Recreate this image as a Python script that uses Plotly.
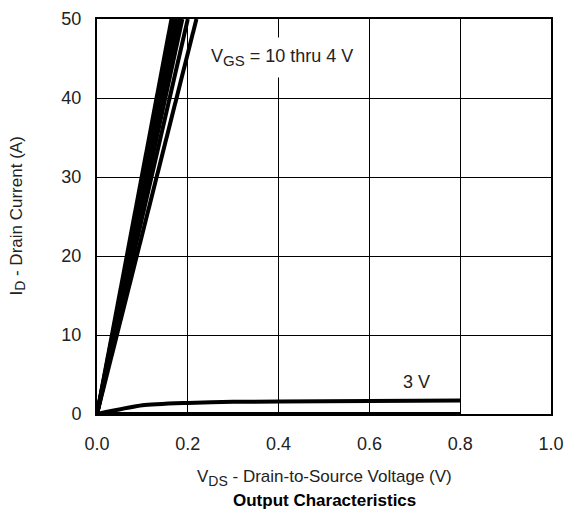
import plotly.graph_objects as go

# Data: V_GS curves (V_DS in V, I_D in A)
vgs_labels = ["10 V", "9 V", "8 V", "7 V", "6 V", "5 V", "4 V"]
vds_high = [[0.0, 0.164], [0.0, 0.170], [0.0, 0.176], [0.0, 0.182],
            [0.0, 0.188], [0.0, 0.200], [0.0, 0.219]]
id_high = [[0.0, 50.0]] * 7

vds_3v = [0.0, 0.1, 0.2, 0.3, 0.5, 0.8]
id_3v = [0.0, 1.1, 1.4, 1.55, 1.6, 1.7]

vds_2v = [0.0, 0.8]
id_2v = [0.0, 0.0]

x_ticks = [0.0, 0.2, 0.4, 0.6, 0.8, 1.0]
x_tick_text = ["0.0", "0.2", "0.4", "0.6", "0.8", "1.0"]
y_ticks = [0, 10, 20, 30, 40, 50]

FONT = "Liberation Sans, Arial, Helvetica, sans-serif"
TXT = "#222222"

fig = go.Figure()
for name, xs, ys in zip(vgs_labels, vds_high, id_high):
    fig.add_trace(go.Scatter(x=xs, y=ys, mode="lines", name=name,
                             line=dict(color="black", width=4)))
fig.add_trace(go.Scatter(x=vds_3v, y=id_3v, mode="lines", name="3 V",
                         line=dict(color="black", width=4, shape="spline", smoothing=0.6)))
fig.add_trace(go.Scatter(x=vds_2v, y=id_2v, mode="lines", name="2 V",
                         line=dict(color="black", width=4)))

fig.update_layout(
    width=564, height=519,
    margin=dict(l=97, r=13, t=19, b=105),
    paper_bgcolor="white", plot_bgcolor="white",
    showlegend=False,
    font=dict(family=FONT, size=18, color=TXT),
    xaxis=dict(range=[0, 1.0], tickvals=x_ticks, ticktext=x_tick_text,
               showgrid=True, gridcolor="black", gridwidth=1,
               showline=True, linecolor="black", linewidth=2, mirror=True,
               zeroline=False, ticks="", ticklabelstandoff=12, automargin=False,
               tickfont=dict(size=18, color=TXT)),
    yaxis=dict(range=[0, 50], tickvals=y_ticks,
               showgrid=True, gridcolor="black", gridwidth=1,
               showline=True, linecolor="black", linewidth=2, mirror=True,
               zeroline=False, ticks="", ticklabelstandoff=10, automargin=False,
               tickfont=dict(size=18, color=TXT)),
)

SUB = '<sub><span style="font-size:%dpx">%s</span></sub>'

fig.add_annotation(x=0.407, y=45.1, xref="x", yref="y",
                   text="V" + SUB % (15, "GS") + " = 10 thru 4 V", showarrow=False,
                   bgcolor="white", borderpad=8,
                   font=dict(size=18, color=TXT))
fig.add_annotation(x=0.704, y=4.1, xref="x", yref="y",
                   text="3 V", showarrow=False,
                   font=dict(size=18, color=TXT))
fig.add_annotation(x=0.5, y=-0.161, xref="paper", yref="paper",
                   text="V" + SUB % (14, "DS") + " - Drain-to-Source Voltage (V)", showarrow=False,
                   xanchor="center", yanchor="middle",
                   font=dict(size=17, color=TXT))
fig.add_annotation(x=0.5, y=-0.22, xref="paper", yref="paper",
                   text="<b>Output Characteristics</b>", showarrow=False,
                   xanchor="center", yanchor="middle",
                   font=dict(size=17, color="black"))
fig.add_annotation(x=-0.176, y=0.5, xref="paper", yref="paper",
                   text="I" + SUB % (14, "D") + " - Drain Current (A)", showarrow=False,
                   textangle=-90, xanchor="center", yanchor="middle",
                   font=dict(size=17, color=TXT))

fig.write_html("out.html", config={"displayModeBar": False},
               post_script="document.body.style.margin='0';")
